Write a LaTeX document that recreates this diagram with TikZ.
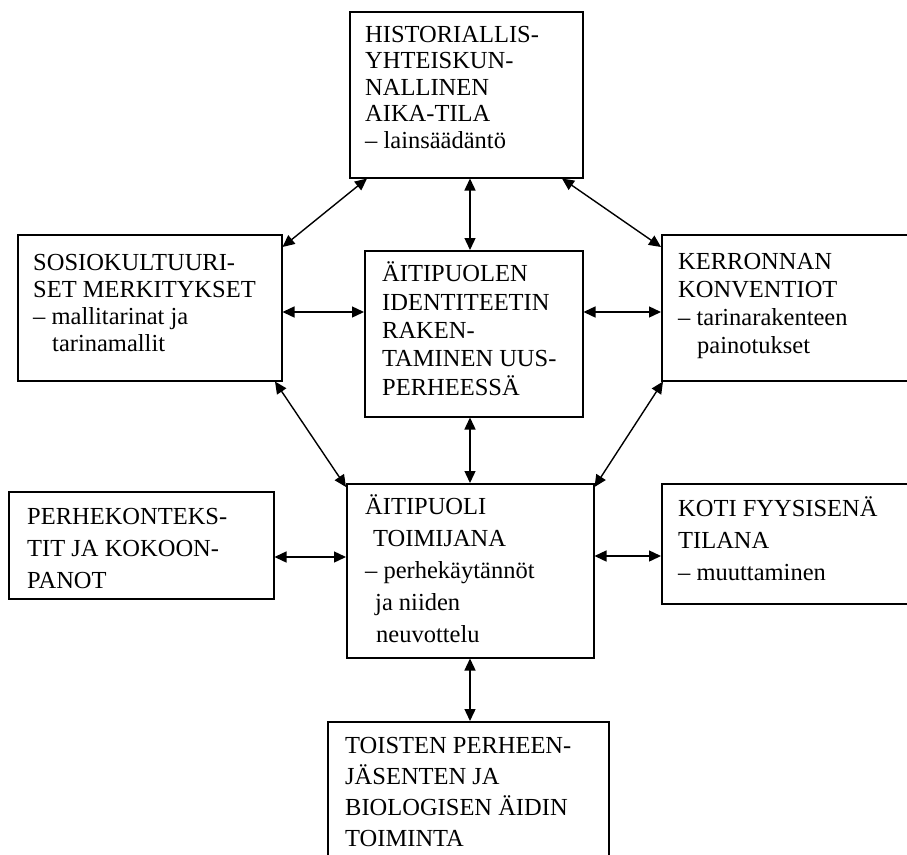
\documentclass[tikz,border=0pt]{standalone}
\usepackage{fontspec}
\setmainfont{Liberation Serif}
\usetikzlibrary{arrows.meta}
\begin{document}
\begin{tikzpicture}[x=1pt,y=-1pt,
  box/.style={draw, line width=1.5pt, inner sep=0pt, anchor=north west},
  lbl/.style={anchor=base west, inner sep=0pt, align=left},
  link/.style={{Triangle[length=12pt,width=11pt]}-{Triangle[length=12pt,width=11pt]}, line width=1.4pt}]
\clip (0,0) rectangle (907,854);
\fill[white] (0,0) rectangle (907,854);
% boxes
\node[box, minimum width=233pt, minimum height=166pt] (top) at (349,11) {};
\node[box, minimum width=218pt, minimum height=166pt] (center) at (364,250) {};
\node[box, minimum width=264pt, minimum height=146pt] (left) at (17,234) {};
\node[box, minimum width=300pt, minimum height=146pt] (right) at (661,234) {};
\node[box, minimum width=265pt, minimum height=107pt] (perhe) at (8,491) {};
\node[box, minimum width=247pt, minimum height=174pt] (aiti) at (346,483) {};
\node[box, minimum width=300pt, minimum height=120pt] (koti) at (661,483) {};
\node[box, minimum width=281pt, minimum height=200pt] (bottom) at (327,721) {};
% texts (anchored at the baseline of the last line)
\node[lbl, font=\fontsize{24.5}{26.5}\selectfont] (ttop) at (365,148)
  {HISTORIALLIS-\\YHTEISKUN-\\NALLINEN\\AIKA-TILA\\– lainsäädäntö};
\node[lbl, font=\fontsize{24.5}{28.3}\selectfont] (tcenter) at (382,395)
  {ÄITIPUOLEN\\IDENTITEETIN\\RAKEN-\\TAMINEN UUS-\\PERHEESSÄ};
\node[lbl, font=\fontsize{24.5}{27}\selectfont] (tleft) at (33,351)
  {SOSIOKULTUURI-\\SET MERKITYKSET\\– mallitarinat ja\\\hspace*{19pt}tarinamallit};
\node[lbl, font=\fontsize{24.5}{27.7}\selectfont] (tright) at (678,353)
  {KERRONNAN\\KONVENTIOT\\– tarinarakenteen\\\hspace*{19pt}painotukset};
\node[lbl, font=\fontsize{24.5}{32}\selectfont] (tperhe) at (27,588)
  {PERHEKONTEKS-\\TIT JA KOKOON-\\PANOT};
\node[lbl, font=\fontsize{24.5}{32}\selectfont] (taiti) at (365,642)
  {ÄITIPUOLI\\\hspace*{8pt}TOIMIJANA\\– perhekäytännöt\\\hspace*{10pt}ja niiden\\\hspace*{11pt}neuvottelu};
\node[lbl, font=\fontsize{24.5}{32}\selectfont] (tkoti) at (678,580)
  {KOTI FYYSISENÄ\\TILANA\\– muuttaminen};
\node[lbl, font=\fontsize{24.5}{30.7}\selectfont] (tbottom) at (345,846)
  {TOISTEN PERHEEN-\\JÄSENTEN JA\\BIOLOGISEN ÄIDIN\\TOIMINTA};
% connectors
\draw[link] (470,0 |- top.south) -- (470,0 |- center.north);
\draw[link] (367,0 |- top.south) -- (left.east |- 0,247);
\draw[link] (562,0 |- top.south) -- (right.west |- 0,247);
\draw[link] (left.east |- 0,312) -- (center.west |- 0,312);
\draw[link] (center.east |- 0,312) -- (right.west |- 0,312);
\draw[link] (470,0 |- center.south) -- (470,0 |- aiti.north);
\draw[link] (275,0 |- left.south) -- (aiti.west |- 0,487);
\draw[link] (663,0 |- right.south) -- (aiti.east |- 0,487);
\draw[link] (perhe.east |- 0,557) -- (aiti.west |- 0,557);
\draw[link] (aiti.east |- 0,556) -- (koti.west |- 0,556);
\draw[link] (470,0 |- aiti.south) -- (470,0 |- bottom.north);
\end{tikzpicture}
\end{document}
